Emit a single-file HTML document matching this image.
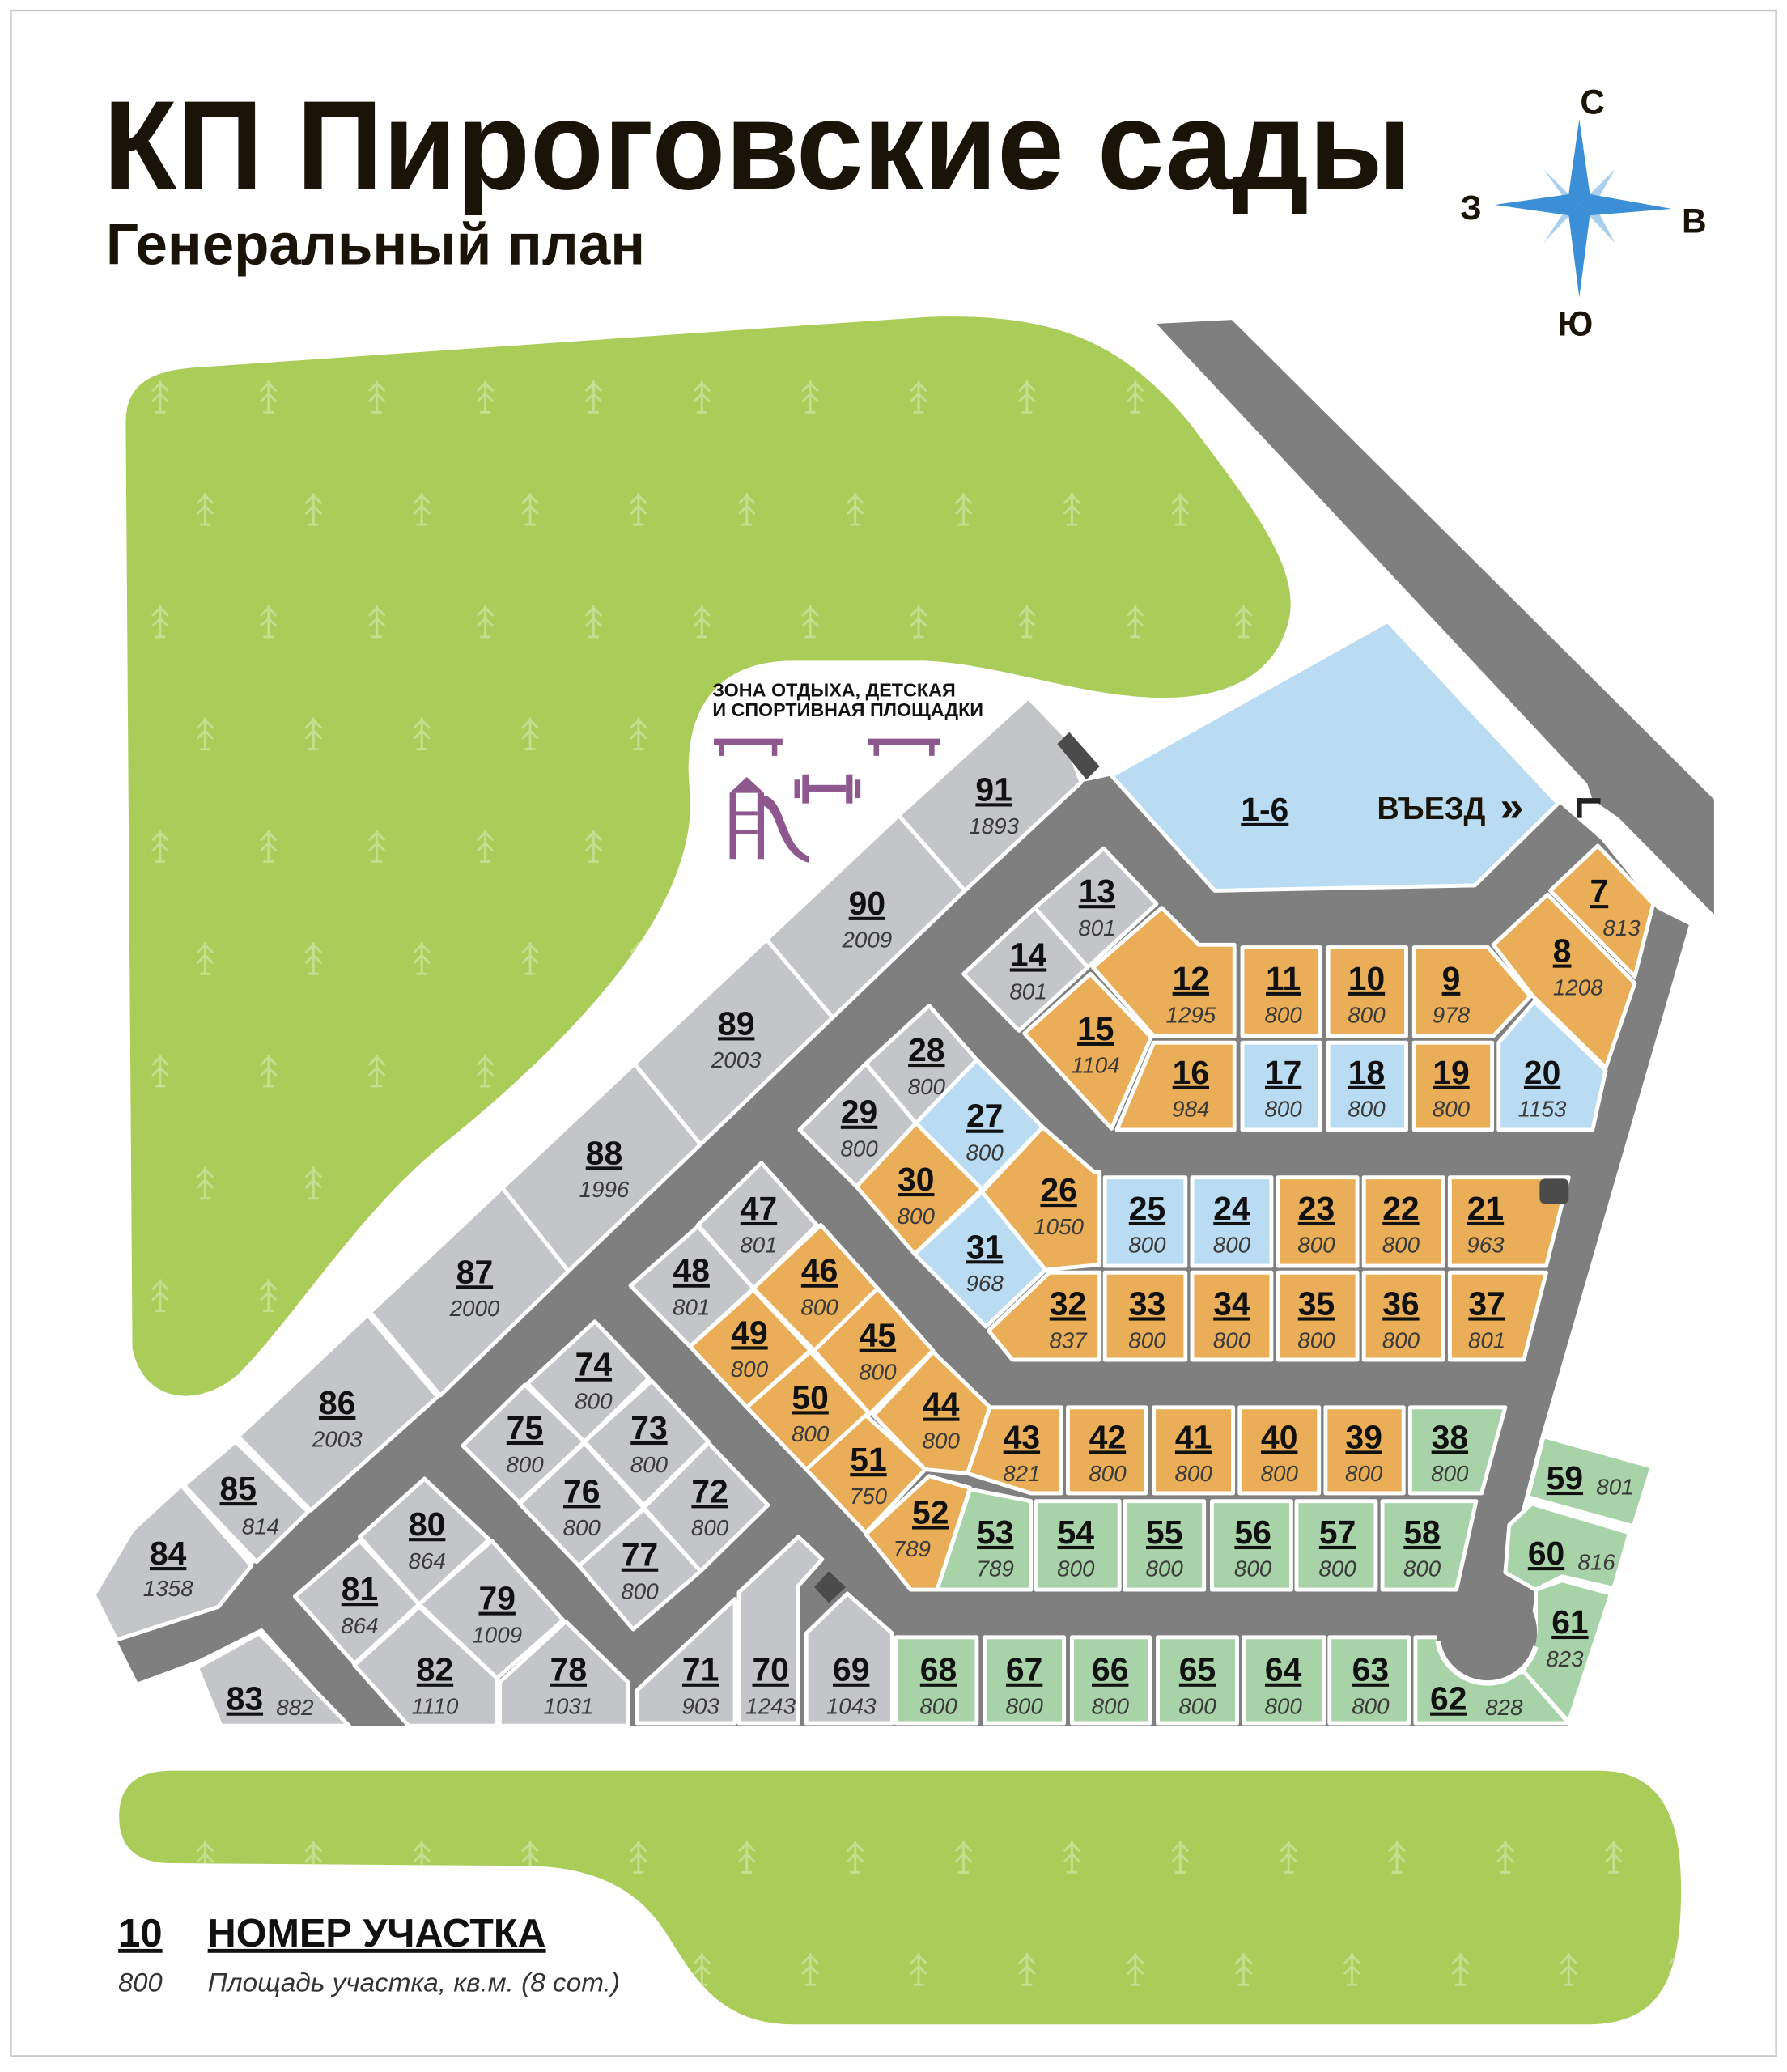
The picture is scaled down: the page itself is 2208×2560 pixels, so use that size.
<!DOCTYPE html>
<html><head><meta charset="utf-8"><style>
html,body{margin:0;padding:0;background:#fff}
svg{display:block}
.g{fill:#c4c5c8}.o{fill:#e9ae57}.b{fill:#badcf3}.e{fill:#a8d3a9}
.p polygon{stroke:#fff;stroke-width:3;stroke-linejoin:round}
.n{font-family:"Liberation Sans",sans-serif;font-weight:bold;font-size:25px;text-anchor:middle;fill:#111;text-decoration:underline}
.a{font-family:"Liberation Sans",sans-serif;font-style:italic;font-size:17px;text-anchor:middle;fill:#3a3a3a}
</style></head><body>
<svg width="2208" height="2560" viewBox="0 0 1352 1568" xmlns="http://www.w3.org/2000/svg">
<defs>
<pattern id="tr" patternUnits="userSpaceOnUse" width="82" height="170">
<g fill="none" stroke="#c5df90" stroke-width="1.8">
<path d="M39,118V142M33,126L39,120L45,126M33,134L39,128L45,134M35,142H43"/>
<path d="M73,33V57M67,41L73,35L79,41M67,49L73,43L79,49M69,57H77"/>
</g></pattern>
</defs>
<rect x="0" y="0" width="1352" height="1568" fill="#fff"/>
<rect x="8" y="8" width="1336" height="1548" fill="none" stroke="#c8c8c8" stroke-width="1.5"/>

<!-- title -->
<text x="78" y="143" font-family="Liberation Sans,sans-serif" font-weight="bold" font-size="96" fill="#1a1408" textLength="990" lengthAdjust="spacingAndGlyphs">КП Пироговские сады</text>
<text x="80" y="200" font-family="Liberation Sans,sans-serif" font-weight="bold" font-size="44" fill="#1a1408" textLength="408" lengthAdjust="spacingAndGlyphs">Генеральный план</text>

<!-- compass -->
<g>
<polygon points="1195,155 1222,128 1205,158" fill="#a8d0ee"/>
<polygon points="1195,155 1168,128 1185,152" fill="#a8d0ee"/>
<polygon points="1195,155 1168,184 1185,158" fill="#a8d0ee"/>
<polygon points="1195,155 1222,184 1205,152" fill="#a8d0ee"/>
<polygon points="1195,90 1203,147 1195,155 1187,147" fill="#3a8fd6"/>
<polygon points="1195,225 1203,163 1195,155 1187,163" fill="#3a8fd6"/>
<polygon points="1131,155 1187,147 1195,155 1187,163" fill="#3a8fd6"/>
<polygon points="1265,158 1203,147 1195,155 1203,163" fill="#3a8fd6"/>
<text x="1205" y="86" font-family="Liberation Sans,sans-serif" font-weight="bold" font-size="26" text-anchor="middle" fill="#1a1408">С</text>
<text x="1113" y="166" font-family="Liberation Sans,sans-serif" font-weight="bold" font-size="26" text-anchor="middle" fill="#1a1408">З</text>
<text x="1282" y="176" font-family="Liberation Sans,sans-serif" font-weight="bold" font-size="26" text-anchor="middle" fill="#1a1408">В</text>
<text x="1192" y="254" font-family="Liberation Sans,sans-serif" font-weight="bold" font-size="26" text-anchor="middle" fill="#1a1408">Ю</text>
</g>

<!-- forests -->
<path d="M95,320 C95,290 115,280 150,278 L700,240 C800,236 850,260 900,320 C945,380 985,430 975,470 C965,510 930,528 880,528 C820,528 760,503 700,500 L600,500 C540,500 515,540 522,600 C528,690 430,790 330,870 C270,920 220,1000 180,1040 C150,1066 108,1062 100,1020 Z" fill="#aacc58"/>
<path d="M95,320 C95,290 115,280 150,278 L700,240 C800,236 850,260 900,320 C945,380 985,430 975,470 C965,510 930,528 880,528 C820,528 760,503 700,500 L600,500 C540,500 515,540 522,600 C528,690 430,790 330,870 C270,920 220,1000 180,1040 C150,1066 108,1062 100,1020 Z" fill="url(#tr)"/>
<path d="M130,1340 L1210,1340 C1260,1340 1272,1380 1272,1430 C1272,1500 1255,1532 1200,1532 L600,1532 C540,1532 522,1490 502,1460 C482,1430 450,1413 400,1412 L130,1410 C100,1410 90,1395 90,1375 C90,1350 105,1340 130,1340 Z" fill="#aacc58"/>
<path d="M130,1340 L1210,1340 C1260,1340 1272,1380 1272,1430 C1272,1500 1255,1532 1200,1532 L600,1532 C540,1532 522,1490 502,1460 C482,1430 450,1413 400,1412 L130,1410 C100,1410 90,1395 90,1375 C90,1350 105,1340 130,1340 Z" fill="url(#tr)"/>

<!-- roads -->
<polygon points="875,245 932,242 1297,605 1297,692 1225,619 1205,605 1201,593" fill="#7f7f7f"/>
<polygon points="818,592 841,587 1180,608 1212,636 1254,688 1278,700 1165,1090 1139,1190 1162,1203 1153,1265 1187,1306 264,1306 198,1232 150,1256 104,1273 88,1241 165,1216 190,1185 233,1144 333,1056 430,962 530,866 630,770 730,674" fill="#7f7f7f"/>

<!-- plots -->
<g class="p">
<polygon class="b" points="841,587 1050,470 1179,608 1116,670 919,674"/>
<polygon class="o" points="1209,640 1251,684 1237,739 1173,674"/>
<polygon class="o" points="1171,677 1237,744 1215,808 1160,754 1130,715"/>
<polygon class="o" points="1070,717 1126,717 1158,754 1130,784 1070,784"/>
<polygon class="o" points="1005,717 1064,717 1064,784 1005,784"/>
<polygon class="o" points="940,717 999,717 999,784 940,784"/>
<polygon class="o" points="879,687 907,715 934,715 934,784 873,784 827,732"/>
<polygon class="g" points="835,642 875,684 823,732 783,687"/>
<polygon class="g" points="783,687 823,732 771,780 729,737"/>
<polygon class="o" points="825,737 871,785 841,854 775,782"/>
<polygon class="o" points="873,789 934,789 934,855 845,855"/>
<polygon class="b" points="940,789 999,789 999,855 940,855"/>
<polygon class="b" points="1005,789 1064,789 1064,855 1005,855"/>
<polygon class="o" points="1070,789 1129,789 1129,855 1070,855"/>
<polygon class="b" points="1134,789 1161,758 1215,810 1205,855 1134,855"/>

<polygon class="g" points="703,761 739,802 693,850 655,805"/>
<polygon class="g" points="655,805 693,850 648,898 605,855"/>
<polygon class="b" points="739,802 789,853 743,900 693,850"/>
<polygon class="o" points="693,850 743,900 692,949 648,898"/>
<polygon class="o" points="789,853 828,887 832,887 832,957 791,961 743,902"/>
<polygon class="b" points="743,902 791,961 746,1004 692,949"/>
<polygon class="b" points="836,891 897,891 897,958 836,958"/>
<polygon class="b" points="902,891 962,891 962,958 902,958"/>
<polygon class="o" points="967,891 1027,891 1027,958 967,958"/>
<polygon class="o" points="1032,891 1092,891 1092,958 1032,958"/>
<polygon class="o" points="1097,891 1187,891 1170,958 1097,958"/>
<polygon class="o" points="794,963 832,963 832,1029 766,1029 748,1007"/>
<polygon class="o" points="836,963 897,963 897,1029 836,1029"/>
<polygon class="o" points="902,963 962,963 962,1029 902,1029"/>
<polygon class="o" points="967,963 1027,963 1027,1029 967,1029"/>
<polygon class="o" points="1032,963 1092,963 1092,1029 1032,1029"/>
<polygon class="o" points="1097,963 1170,963 1153,1029 1097,1029"/>

<polygon class="g" points="576,880 618,927 570,975 528,927"/>
<polygon class="g" points="528,928 570,975 522,1019 477,973"/>
<polygon class="o" points="621,927 664,975 616,1022 570,975"/>
<polygon class="o" points="570,976 613,1022 565,1065 522,1019"/>
<polygon class="o" points="664,975 706,1022 658,1070 616,1022"/>
<polygon class="o" points="613,1023 658,1070 610,1112 565,1065"/>
<polygon class="o" points="706,1023 749,1065 732,1115 700,1112 661,1071"/>
<polygon class="o" points="655,1071 700,1112 655,1160 610,1112"/>
<polygon class="o" points="703,1117 734,1126 709,1203 689,1203 655,1161"/>
<polygon class="o" points="749,1065 803,1065 803,1130 780,1130 732,1115"/>
<polygon class="o" points="808,1065 867,1065 867,1130 808,1130"/>
<polygon class="o" points="873,1065 933,1065 933,1130 873,1130"/>
<polygon class="o" points="938,1065 998,1065 998,1130 938,1130"/>
<polygon class="o" points="1003,1065 1062,1065 1062,1130 1003,1130"/>
<polygon class="e" points="1067,1065 1139,1065 1121,1130 1067,1130"/>
<polygon class="e" points="734,1127 780,1136 780,1203 709,1203"/>
<polygon class="e" points="784,1136 847,1136 847,1203 784,1203"/>
<polygon class="e" points="851,1136 911,1136 911,1203 851,1203"/>
<polygon class="e" points="917,1136 977,1136 977,1203 917,1203"/>
<polygon class="e" points="981,1136 1041,1136 1041,1203 981,1203"/>
<polygon class="e" points="1046,1136 1117,1136 1102,1203 1046,1203"/>
<polygon class="e" points="1168,1087 1250,1110 1236,1155 1156,1133"/>
<polygon class="e" points="1159,1138 1233,1160 1221,1202 1182,1193 1162,1203 1139,1190 1142,1154"/>
<polygon class="e" points="1162,1203 1182,1196 1219,1206 1187,1303 1153,1265 1162,1235"/>
<polygon class="e" points="1071,1239 1090,1239 1100,1262 1125,1272 1153,1265 1187,1304 1071,1304"/>
<polygon class="e" points="1006,1239 1066,1239 1066,1304 1006,1304"/>
<polygon class="e" points="941,1239 1002,1239 1002,1304 941,1304"/>
<polygon class="e" points="876,1239 936,1239 936,1304 876,1304"/>
<polygon class="e" points="811,1239 870,1239 870,1304 811,1304"/>
<polygon class="e" points="745,1239 805,1239 805,1304 745,1304"/>
<polygon class="e" points="678,1239 739,1239 739,1304 678,1304"/>
<polygon class="g" points="610,1236 641,1206 675,1236 675,1304 610,1304"/>
<polygon class="g" points="559,1205 604,1163 622,1180 604,1200 604,1304 559,1304"/>
<polygon class="g" points="482,1279 556,1210 556,1304 482,1304"/>
<polygon class="g" points="378,1273 428,1227 475,1273 475,1306 378,1306"/>
<polygon class="g" points="268,1260 317,1216 376,1270 376,1306 309,1306"/>
<polygon class="g" points="149,1262 196,1236 264,1306 167,1306"/>
<polygon class="g" points="317,1214 372,1166 426,1226 376,1270"/>
<polygon class="g" points="272,1163 321,1119 370,1165 317,1214"/>
<polygon class="g" points="223,1208 272,1166 317,1214 268,1259"/>
<polygon class="g" points="350,1094 397,1048 442,1091 393,1137"/>
<polygon class="g" points="399,1047 450,1000 491,1043 442,1091"/>
<polygon class="g" points="442,1091 493,1045 536,1091 487,1139"/>
<polygon class="g" points="393,1138 442,1092 487,1141 438,1185"/>
<polygon class="g" points="487,1141 536,1092 581,1139 530,1189"/>
<polygon class="g" points="438,1185 487,1142 530,1189 479,1233"/>

<polygon class="g" points="71,1207 100,1158 137,1124 190,1185 165,1216 88,1241"/>
<polygon class="g" points="139,1124 178,1091 233,1144 194,1182"/>
<polygon class="g" points="180,1087 278,995 331,1057 235,1143"/>
<polygon class="g" points="280,993 380,899 430,962 333,1056"/>
<polygon class="g" points="380,899 480,805 530,866 430,962"/>
<polygon class="g" points="480,805 580,711 630,770 530,866"/>
<polygon class="g" points="580,711 680,617 730,674 630,770"/>
<polygon class="g" points="680,617 778,528 805,556 818,592 730,674"/>
</g>

<!-- cul-de-sac -->
<circle cx="1125" cy="1235" r="38" fill="#7f7f7f"/>
<path d="M1088,1242 A38,38 0 0 0 1162,1246" fill="none" stroke="#fff" stroke-width="4"/>

<!-- dark squares -->
<polygon points="800,563 809,554 832,580 822,590" fill="#4b4b4b"/>
<rect x="1165" y="892" width="22" height="19" rx="4" fill="#4b4b4b"/>
<polygon points="616,1201 627,1189 640,1201 627,1213" fill="#4b4b4b"/>
<rect x="1193" y="604" width="4" height="15" fill="#222"/><rect x="1193" y="604" width="18" height="4" fill="#222"/>

<!-- playground -->
<text x="539" y="527" font-family="Liberation Sans,sans-serif" font-weight="bold" font-size="14" fill="#111" textLength="184" lengthAdjust="spacingAndGlyphs">ЗОНА ОТДЫХА, ДЕТСКАЯ</text>
<text x="539" y="542" font-family="Liberation Sans,sans-serif" font-weight="bold" font-size="14" fill="#111" textLength="205" lengthAdjust="spacingAndGlyphs">И СПОРТИВНАЯ ПЛОЩАДКИ</text>
<g fill="#8c588e">
<rect x="540" y="559" width="52" height="5"/><rect x="544" y="564" width="4" height="8"/><rect x="584" y="564" width="4" height="8"/>
<rect x="657" y="559" width="54" height="5"/><rect x="661" y="564" width="4" height="8"/><rect x="703" y="564" width="4" height="8"/>
<rect x="601" y="590" width="4" height="14"/><rect x="607" y="586" width="5" height="22"/><rect x="612" y="594" width="28" height="5"/><rect x="640" y="586" width="5" height="22"/><rect x="647" y="590" width="4" height="14"/>
<polygon points="565,588 578,600 552,600"/>
<rect x="552" y="600" width="5" height="50"/><rect x="573" y="600" width="5" height="50"/>
<rect x="557" y="614" width="16" height="3"/><rect x="557" y="628" width="16" height="3"/>
<path d="M578,602 C595,605 592,640 612,648 L612,653 C587,645 590,615 578,610 Z"/>
</g>

<text x="957" y="621" class="n">1-6</text>
<text x="1042" y="620" font-family="Liberation Sans,sans-serif" font-weight="bold" font-size="24" fill="#1a1408" textLength="82" lengthAdjust="spacingAndGlyphs">ВЪЕЗД</text>
<text x="1135" y="621" font-family="Liberation Sans,sans-serif" font-weight="bold" font-size="32" fill="#1a1408">»</text>

<!-- labels -->
<g>
<text class="n" x="752" y="606">91</text><text class="a" x="752" y="631">1893</text>
<text class="n" x="656" y="692">90</text><text class="a" x="656" y="717">2009</text>
<text class="n" x="557" y="783">89</text><text class="a" x="557" y="808">2003</text>
<text class="n" x="457" y="881">88</text><text class="a" x="457" y="906">1996</text>
<text class="n" x="359" y="971">87</text><text class="a" x="359" y="996">2000</text>
<text class="n" x="255" y="1070">86</text><text class="a" x="255" y="1095">2003</text>
<text class="n" x="180" y="1135">85</text><text class="a" x="197" y="1161">814</text>
<text class="n" x="127" y="1184">84</text><text class="a" x="127" y="1208">1358</text>
<text class="n" x="185" y="1294">83</text><text class="a" x="223" y="1298">882</text>
<text class="n" x="329" y="1272">82</text><text class="a" x="329" y="1297">1110</text>
<text class="n" x="272" y="1211">81</text><text class="a" x="272" y="1236">864</text>
<text class="n" x="323" y="1162">80</text><text class="a" x="323" y="1187">864</text>
<text class="n" x="376" y="1218">79</text><text class="a" x="376" y="1243">1009</text>
<text class="n" x="430" y="1272">78</text><text class="a" x="430" y="1297">1031</text>
<text class="n" x="484" y="1185">77</text><text class="a" x="484" y="1210">800</text>
<text class="n" x="440" y="1137">76</text><text class="a" x="440" y="1162">800</text>
<text class="n" x="397" y="1089">75</text><text class="a" x="397" y="1114">800</text>
<text class="n" x="449" y="1041">74</text><text class="a" x="449" y="1066">800</text>
<text class="n" x="491" y="1089">73</text><text class="a" x="491" y="1114">800</text>
<text class="n" x="537" y="1137">72</text><text class="a" x="537" y="1162">800</text>
<text class="n" x="530" y="1272">71</text><text class="a" x="530" y="1297">903</text>
<text class="n" x="583" y="1272">70</text><text class="a" x="583" y="1297">1243</text>
<text class="n" x="644" y="1272">69</text><text class="a" x="644" y="1297">1043</text>
<text class="n" x="710" y="1272">68</text><text class="a" x="710" y="1297">800</text>
<text class="n" x="775" y="1272">67</text><text class="a" x="775" y="1297">800</text>
<text class="n" x="840" y="1272">66</text><text class="a" x="840" y="1297">800</text>
<text class="n" x="906" y="1272">65</text><text class="a" x="906" y="1297">800</text>
<text class="n" x="971" y="1272">64</text><text class="a" x="971" y="1297">800</text>
<text class="n" x="1037" y="1272">63</text><text class="a" x="1037" y="1297">800</text>
<text class="n" x="1096" y="1294">62</text><text class="a" x="1138" y="1298">828</text>
<text class="n" x="1188" y="1236">61</text><text class="a" x="1184" y="1261">823</text>
<text class="n" x="1170" y="1184">60</text><text class="a" x="1208" y="1188">816</text>
<text class="n" x="1184" y="1127">59</text><text class="a" x="1222" y="1131">801</text>
<text class="n" x="1076" y="1168">58</text><text class="a" x="1076" y="1193">800</text>
<text class="n" x="1012" y="1168">57</text><text class="a" x="1012" y="1193">800</text>
<text class="n" x="948" y="1168">56</text><text class="a" x="948" y="1193">800</text>
<text class="n" x="881" y="1168">55</text><text class="a" x="881" y="1193">800</text>
<text class="n" x="814" y="1168">54</text><text class="a" x="814" y="1193">800</text>
<text class="n" x="753" y="1168">53</text><text class="a" x="753" y="1193">789</text>
<text class="n" x="704" y="1153">52</text><text class="a" x="690" y="1178">789</text>
<text class="n" x="657" y="1113">51</text><text class="a" x="657" y="1138">750</text>
<text class="n" x="613" y="1066">50</text><text class="a" x="613" y="1091">800</text>
<text class="n" x="567" y="1017">49</text><text class="a" x="567" y="1042">800</text>
<text class="n" x="523" y="970">48</text><text class="a" x="523" y="995">801</text>
<text class="n" x="574" y="923">47</text><text class="a" x="574" y="948">801</text>
<text class="n" x="620" y="970">46</text><text class="a" x="620" y="995">800</text>
<text class="n" x="664" y="1019">45</text><text class="a" x="664" y="1044">800</text>
<text class="n" x="712" y="1071">44</text><text class="a" x="712" y="1096">800</text>
<text class="n" x="773" y="1096">43</text><text class="a" x="773" y="1121">821</text>
<text class="n" x="838" y="1096">42</text><text class="a" x="838" y="1121">800</text>
<text class="n" x="903" y="1096">41</text><text class="a" x="903" y="1121">800</text>
<text class="n" x="968" y="1096">40</text><text class="a" x="968" y="1121">800</text>
<text class="n" x="1032" y="1096">39</text><text class="a" x="1032" y="1121">800</text>
<text class="n" x="1097" y="1096">38</text><text class="a" x="1097" y="1121">800</text>
<text class="n" x="1125" y="995">37</text><text class="a" x="1125" y="1020">801</text>
<text class="n" x="1060" y="995">36</text><text class="a" x="1060" y="1020">800</text>
<text class="n" x="996" y="995">35</text><text class="a" x="996" y="1020">800</text>
<text class="n" x="932" y="995">34</text><text class="a" x="932" y="1020">800</text>
<text class="n" x="868" y="995">33</text><text class="a" x="868" y="1020">800</text>
<text class="n" x="808" y="995">32</text><text class="a" x="808" y="1020">837</text>
<text class="n" x="745" y="952">31</text><text class="a" x="745" y="977">968</text>
<text class="n" x="693" y="901">30</text><text class="a" x="693" y="926">800</text>
<text class="n" x="650" y="850">29</text><text class="a" x="650" y="875">800</text>
<text class="n" x="701" y="803">28</text><text class="a" x="701" y="828">800</text>
<text class="n" x="745" y="853">27</text><text class="a" x="745" y="878">800</text>
<text class="n" x="801" y="909">26</text><text class="a" x="801" y="934">1050</text>
<text class="n" x="868" y="923">25</text><text class="a" x="868" y="948">800</text>
<text class="n" x="932" y="923">24</text><text class="a" x="932" y="948">800</text>
<text class="n" x="996" y="923">23</text><text class="a" x="996" y="948">800</text>
<text class="n" x="1060" y="923">22</text><text class="a" x="1060" y="948">800</text>
<text class="n" x="1124" y="923">21</text><text class="a" x="1124" y="948">963</text>
<text class="n" x="1167" y="820">20</text><text class="a" x="1167" y="845">1153</text>
<text class="n" x="1098" y="820">19</text><text class="a" x="1098" y="845">800</text>
<text class="n" x="1034" y="820">18</text><text class="a" x="1034" y="845">800</text>
<text class="n" x="971" y="820">17</text><text class="a" x="971" y="845">800</text>
<text class="n" x="901" y="820">16</text><text class="a" x="901" y="845">984</text>
<text class="n" x="829" y="787">15</text><text class="a" x="829" y="812">1104</text>
<text class="n" x="778" y="731">14</text><text class="a" x="778" y="756">801</text>
<text class="n" x="830" y="683">13</text><text class="a" x="830" y="708">801</text>
<text class="n" x="901" y="749">12</text><text class="a" x="901" y="774">1295</text>
<text class="n" x="971" y="749">11</text><text class="a" x="971" y="774">800</text>
<text class="n" x="1034" y="749">10</text><text class="a" x="1034" y="774">800</text>
<text class="n" x="1098" y="749">9</text><text class="a" x="1098" y="774">978</text>
<text class="n" x="1182" y="728">8</text><text class="a" x="1194" y="753">1208</text>
<text class="n" x="1210" y="683">7</text><text class="a" x="1227" y="708">813</text>
</g>

<!-- legend -->
<text x="106" y="1473" font-family="Liberation Sans,sans-serif" font-weight="bold" font-size="30" text-anchor="middle" fill="#111" text-decoration="underline">10</text>
<text x="157" y="1473" font-family="Liberation Sans,sans-serif" font-weight="bold" font-size="30" fill="#111" text-decoration="underline" textLength="256" lengthAdjust="spacingAndGlyphs">НОМЕР УЧАСТКА</text>
<text x="106" y="1507" font-family="Liberation Sans,sans-serif" font-style="italic" font-size="20" text-anchor="middle" fill="#333">800</text>
<text x="157" y="1507" font-family="Liberation Sans,sans-serif" font-style="italic" font-size="20" fill="#333" textLength="312" lengthAdjust="spacingAndGlyphs">Площадь участка, кв.м. (8 сот.)</text>
</svg>
</body></html>
